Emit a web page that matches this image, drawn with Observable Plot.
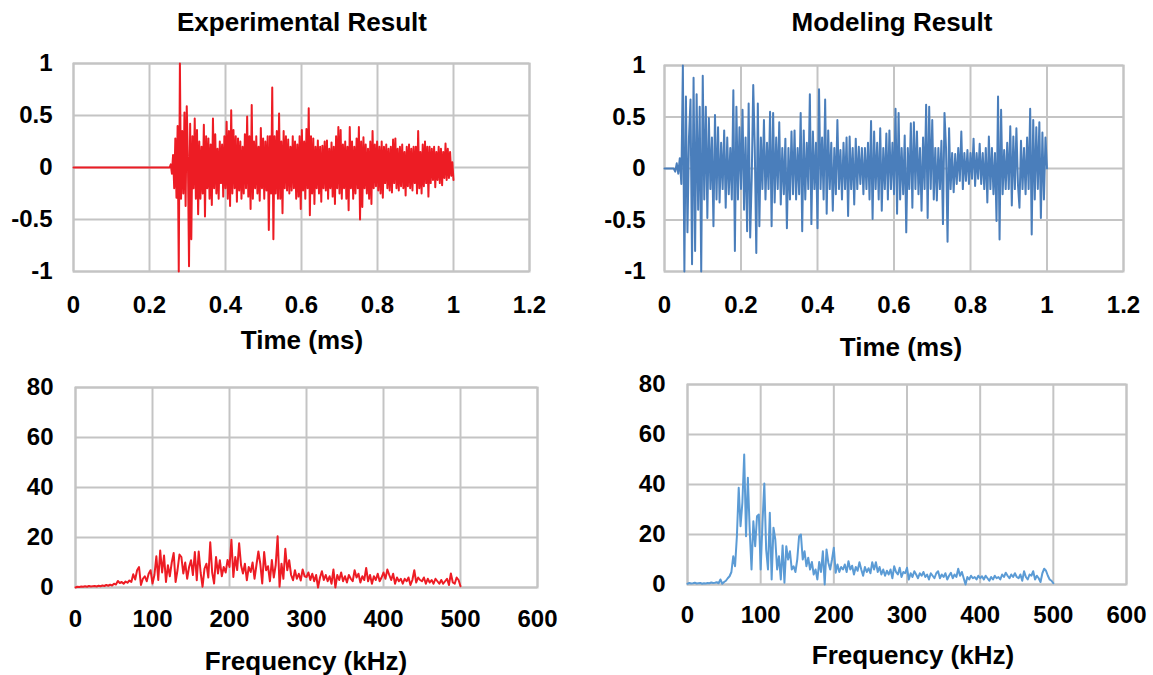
<!DOCTYPE html>
<html><head><meta charset="utf-8">
<script src="https://cdn.jsdelivr.net/npm/d3@7"></script>
<script src="https://cdn.jsdelivr.net/npm/@observablehq/plot@0.6"></script>
<style>
body{margin:0;background:#fff;font-family:"Liberation Sans",Arial,sans-serif;}
#root{position:relative;width:1153px;height:675px;overflow:hidden;background:#fff;}
.t{position:absolute;font-weight:bold;white-space:nowrap;transform:translate(-50%,-50%);color:#000;font-family:"Liberation Sans",Arial,sans-serif;line-height:1;}
.p{position:absolute;}
</style></head><body><div id="root"></div><script>
// Tick labels
const timeTicks = [0, 0.2, 0.4, 0.6, 0.8, 1, 1.2];
const ampTicks = [-1, -0.5, 0, 0.5, 1];
const freqTicks = [0, 100, 200, 300, 400, 500, 600];
const magTicks = [0, 20, 40, 60, 80];

// Experimental time signal (ms): flat until 0.25, then samples every 0.003 ms
const expStart = 0.25, expStep = 0.003;
const expAmp = [
0, 0, 0.03, -0.06, 0.12, -0.2, 0.28, -0.29, 0.4, -1.0,
1.0, -0.3, 0.35, -0.25, 0.53, -0.37, 0.59, 0.1, -0.95, 0.42,
-0.69, 0.3, -0.2, 0.47, -0.3, 0.36, -0.45, 0.25, -0.3, 0.2,
-0.25, 0.41, -0.47, 0.3, -0.2, 0.28, -0.3, 0.22, -0.36, 0.47,
-0.2, 0.32, -0.25, 0.18, -0.3, 0.25, -0.15, 0.22, -0.28, 0.3,
-0.2, 0.44, -0.3, 0.35, -0.37, 0.55, -0.25, 0.36, -0.2, 0.3,
-0.33, 0.28, -0.22, 0.25, -0.3, 0.2, -0.25, 0.32, -0.2, 0.49,
-0.28, 0.3, -0.4, 0.6, -0.3, 0.25, -0.2, 0.3, -0.25, 0.2,
-0.32, 0.38, -0.2, 0.28, -0.3, 0.25, -0.22, 0.3, -0.6, 0.3,
-0.25, 0.77, -0.69, 0.3, -0.25, 0.35, -0.3, 0.52, -0.3, 0.25,
-0.44, 0.35, -0.2, 0.3, -0.22, 0.27, -0.25, 0.2, -0.22, 0.3,
-0.2, 0.25, -0.3, 0.22, -0.28, 0.3, -0.4, 0.36, -0.22, 0.25,
-0.3, 0.37, -0.2, 0.57, -0.46, 0.3, -0.25, 0.28, -0.35, 0.2,
-0.2, 0.26, -0.25, 0.2, -0.33, 0.21, -0.2, 0.25, -0.22, 0.26,
-0.3, 0.18, -0.2, 0.24, -0.28, 0.2, -0.35, 0.3, -0.2, 0.39,
-0.25, 0.36, -0.3, 0.22, -0.2, 0.25, -0.3, 0.2, -0.41, 0.39,
-0.2, 0.25, -0.3, 0.2, -0.25, 0.28, -0.2, 0.39, -0.5, 0.25,
-0.38, 0.29, -0.2, 0.22, -0.25, 0.18, -0.3, 0.25, -0.35, 0.35,
-0.2, 0.22, -0.18, 0.25, -0.22, 0.2, -0.25, 0.25, -0.29, 0.2,
-0.15, 0.22, -0.2, 0.18, -0.22, 0.2, -0.24, 0.27, -0.15, 0.28,
-0.2, 0.18, -0.22, 0.2, -0.18, 0.22, -0.2, 0.15, -0.27, 0.2,
-0.18, 0.22, -0.2, 0.18, -0.22, 0.2, -0.15, 0.2, -0.25, 0.35,
-0.2, 0.15, -0.25, 0.22, -0.18, 0.25, -0.15, 0.2, -0.28, 0.2,
-0.15, 0.18, -0.12, 0.2, -0.19, 0.15, -0.12, 0.2, -0.15, 0.18,
-0.17, 0.15, -0.1, 0.23, -0.12, 0.18, -0.1, 0.15, -0.08, 0.05,
-0.12
];

// Modeling time signal: flat until 0.02, then samples every 0.004 ms
const modStart = 0.02, modStep = 0.004;
const modAmp = [
0, 0, -0.03, 0.05, -0.05, 0.1, -0.15, 1.0, -1.0, 0.7,
-0.62, 0.3, 0.67, -0.93, 0.88, -0.8, 0.72, -0.4, 0.6, -1.0,
0.9, -0.3, 0.6, -0.48, 0.49, -0.2, 0.3, -0.56, 0.52, -0.3,
0.4, -0.33, 0.25, -0.2, 0.37, -0.38, 0.3, -0.25, 0.2, -0.3,
0.76, -0.8, 0.6, -0.3, 0.4, -0.2, 0.57, -0.4, 0.3, -0.61,
0.63, -0.67, -0.1, 0.81, 0.2, -0.82, 0.63, -0.56, 0.3, -0.2,
0.47, -0.3, 0.25, -0.2, 0.55, -0.56, 0.54, -0.33, 0.3, -0.2,
0.45, -0.35, 0.2, -0.25, 0.29, -0.58, 0.2, -0.3, 0.36, -0.25,
0.37, -0.3, 0.2, -0.25, 0.54, -0.61, 0.37, -0.3, 0.25, -0.2,
0.72, -0.54, 0.36, -0.2, 0.25, -0.58, 0.77, -0.2, 0.3, -0.3,
0.67, -0.44, 0.37, -0.2, 0.25, -0.41, 0.2, -0.25, 0.47, -0.2,
0.18, -0.3, 0.25, -0.2, 0.3, -0.46, 0.31, -0.2, 0.2, -0.35,
0.29, -0.2, 0.21, -0.15, 0.2, -0.25, 0.2, -0.2, 0.25, -0.3,
0.46, -0.49, 0.36, -0.2, 0.25, -0.3, 0.39, -0.41, 0.2, -0.2,
0.34, -0.3, 0.37, -0.2, 0.25, -0.25, 0.58, -0.44, 0.54, -0.3,
0.2, -0.25, 0.32, -0.62, 0.2, -0.2, 0.44, -0.38, 0.45, -0.2,
0.36, -0.25, 0.2, -0.41, 0.3, -0.2, 0.62, -0.48, 0.6, -0.2,
0.47, -0.3, 0.2, -0.31, 0.2, -0.2, 0.27, -0.54, 0.54, 0.2,
-0.71, 0.39, -0.2, 0.15, -0.23, 0.14, -0.15, 0.2, -0.12, 0.36,
-0.2, 0.15, -0.12, 0.18, -0.15, 0.15, -0.1, 0.29, -0.17, 0.15,
-0.1, 0.24, -0.15, 0.15, -0.2, 0.2, -0.33, 0.31, -0.2, 0.2,
-0.25, 0.15, -0.51, 0.7, -0.69, 0.57, -0.25, 0.18, -0.2, 0.25,
-0.2, 0.41, -0.36, 0.31, -0.2, 0.39, -0.15, -0.38, 0.27, -0.2,
0.2, -0.25, 0.3, -0.2, 0.58, -0.64, 0.47, -0.3, 0.4, -0.2,
0.45, -0.48, 0.35, -0.3, 0.3, 0.0
];

// Spectra: samples every 2.5 kHz from 0 to 500 kHz
const specStep = 2.5;
const expSpec = [
0, 0.3, 0.2, 0.4, 0.3, 0.5, 0.3, 0.6, 0.4, 0.5,
0.6, 0.4, 0.7, 0.5, 0.8, 0.6, 1.0, 0.7, 1.1, 0.8,
1.5, 1.2, 2.6, 1.8, 2.2, 1.5, 2.4, 1.9, 2.8, 2.2,
5.3, 3.2, 6.9, 8.2, 1.0, 3.5, 4.5, 2.5, 5.5, 6.9,
1.6, 5, 12.5, 3, 14.8, 6, 12.8, 2.2, 8.9, 4.5,
10, 13.8, 2.2, 7, 13.2, 12.2, 5.6, 10, 3.5, 8.2,
10.9, 5, 14.2, 2.9, 14.4, 6, 0.3, 7.5, 9.5, 4,
18.1, 6, 1.6, 12.2, 5.6, 10.9, 4.5, 8.2, 6, 11,
8.2, 19.1, 4.2, 12.2, 7, 17.7, 8.9, 5.6, 9.5, 2.9,
8.2, 6.2, 10, 3.5, 9, 14.4, 9.5, 1.6, 14.2, 6.9,
8.5, 2.5, 11, 4, 9, 20.5, 0.3, 9.5, 3.5, 15.5,
6.9, 10.9, 5, 2.9, 6.9, 3.5, 5.5, 2.8, 7.2, 4.5,
4.2, 6, 3, 5.5, 2.5, 5, 0, 4, 6.5, 3,
5, 2.5, 4.5, 1.5, 7.2, 0, 5, 3, 6, 2.5,
4.5, 2, 5, 3.5, 2.5, 6.9, 4, 5.5, 2, 4.5,
3, 7.8, 2.5, 5, 1.5, 4.5, 3, 5.5, 2.5, 4,
6, 3.5, 7.2, 5, 3, 5.5, 1.5, 4, 2.5, 3.5,
1.5, 3.5, 2.5, 4, 1, 3, 6.9, 2, 4, 3,
2.5, 4, 1.5, 3.5, 2, 3, 1.5, 3.5, 2.5, 1.5,
3, 1.5, 2.5, 3.5, 1, 5.6, 2, 1.5, 4, 3,
0.5
];
const modSpec = [
0.3, 0.6, 0.4, 0.5, 0.7, 0.4, 0.5, 0.6, 0.3, 0.5,
0.4, 0.6, 0.5, 0.8, 0.6, 0.7, 0.9, 0.5, 2, 0.3,
1, 1.5, 2.5, 3.3, 5, 11.3, 7.3, 19.3, 38.7, 23.3,
32.7, 52, 19.3, 42.7, 22, 6, 25.3, 15.3, 27.3, 28,
6, 24.7, 40.4, 14, 6, 28.7, 2, 22.7, 18, 6,
11.3, 2, 15.6, 0.7, 15.3, 10, 13.3, 6, 7.3, 5,
10, 19.3, 20, 10, 13.3, 7.3, 10.7, 6, 9, 4,
6, 2, 9, 5, 13.3, 0, 14, 8.7, 6, 10,
14.7, 4.7, 8, 5, 7, 6, 8, 5, 9.3, 6,
7.5, 4, 7, 5.5, 8.9, 6, 3.5, 7, 5, 6.5,
4.5, 8.9, 6, 8.9, 5, 7, 4, 6, 3.5, 5.5,
4, 6, 2.5, 7.3, 5, 4, 6.7, 3, 5, 4.5,
6.7, 2, 4.5, 3, 5.3, 4, 2.5, 4.5, 3.5, 5,
3, 4, 2, 4.5, 3.5, 2.5, 4.5, 5.3, 2.5, 4,
3, 4.5, 2, 3.5, 4.7, 2.5, 4, 3, 6.3, 3.5,
5, 2.5, 0, 3, 2, 3.5, 2.5, 3, 2, 3.5,
2.5, 3.3, 2, 3.5, 2.5, 1.5, 3, 2, 3.5, 2.5,
3, 2, 4, 3, 4.7, 3.5, 2.5, 4, 3, 4.5,
3, 2.5, 4, 1.5, 5.3, 3, 2, 4, 3.5, 5.3,
2, 3.5, 2.5, 1, 4.5, 6.3, 5.5, 3.5, 2, 1.5,
0.5
];

const timeRows = (start, step, vals) =>
  [{x: 0, y: 0}].concat(vals.map((v, i) => ({x: start + i * step, y: v})));
const specRows = (step, vals) => vals.map((v, i) => ({x: i * step, y: v}));

const root = document.getElementById("root");
const fmt = d => (d < 0 ? "-" + Math.abs(d) : String(d));

function panel(o) {
  const grid = {stroke: "#c4c4c4", strokeWidth: 2, strokeOpacity: 1};
  const svg = Plot.plot({
    width: o.width, height: o.height,
    marginLeft: o.ml, marginRight: o.mr, marginTop: o.mt, marginBottom: o.mb,
    style: {fontSize: "24px", fontWeight: "bold", fontFamily: "'Liberation Sans', Arial, sans-serif", color: "#000", background: "transparent", overflow: "visible"},
    x: {domain: o.xDomain, label: null},
    y: {domain: o.yDomain, label: null},
    marks: [
      Plot.gridX(o.xTicks, grid),
      Plot.gridY(o.yTicks, grid),
      Plot.frame({stroke: "#c4c4c4", strokeWidth: 2}),
      Plot.line(o.data, {x: "x", y: "y", stroke: o.color, strokeWidth: 2}),
      Plot.axisX(o.xTicks, {tickSize: 0, tickPadding: o.xpad, tickFormat: fmt, label: null, fill: "#000"}),
      Plot.axisY(o.yTicks, {tickSize: 0, tickPadding: o.ypad, tickFormat: fmt, label: null, fill: "#000"})
    ]
  });
  const div = document.createElement("div");
  div.className = "p";
  div.style.left = o.left + "px";
  div.style.top = o.top + "px";
  div.appendChild(svg);
  root.appendChild(div);
}

function label(text, x, y, size) {
  const d = document.createElement("div");
  d.className = "t";
  d.textContent = text;
  d.style.left = x + "px";
  d.style.top = y + "px";
  d.style.fontSize = size + "px";
  root.appendChild(d);
}

// Top-left: experimental time signal
panel({left: 0, top: 50, width: 560, height: 270, ml: 73, mr: 31, mt: 13, mb: 49,
  xDomain: [0, 1.2], yDomain: [-1, 1], xTicks: timeTicks, yTicks: ampTicks,
  data: timeRows(expStart, expStep, expAmp), color: "#ed1c24", xpad: 24, ypad: 21});
// Top-right: modeling time signal
panel({left: 590, top: 50, width: 563, height: 270, ml: 74, mr: 30, mt: 15, mb: 49,
  xDomain: [0, 1.2], yDomain: [-1, 1], xTicks: timeTicks, yTicks: ampTicks,
  data: timeRows(modStart, modStep, modAmp), color: "#4a7ebb", xpad: 24, ypad: 19});
// Bottom-left: experimental spectrum
panel({left: 0, top: 370, width: 560, height: 270, ml: 75, mr: 23, mt: 17, mb: 53,
  xDomain: [0, 600], yDomain: [0, 80], xTicks: freqTicks, yTicks: magTicks,
  data: specRows(specStep, expSpec), color: "#ed1c24", xpad: 22, ypad: 22});
// Bottom-right: modeling spectrum
panel({left: 600, top: 370, width: 553, height: 270, ml: 87, mr: 27, mt: 14, mb: 56,
  xDomain: [0, 600], yDomain: [0, 80], xTicks: freqTicks, yTicks: magTicks,
  data: specRows(specStep, modSpec), color: "#5b9bd5", xpad: 21, ypad: 22});

label("Experimental Result", 302, 22, 26);
label("Modeling Result", 892, 22, 26);
label("Time (ms)", 302, 340, 26);
label("Time (ms)", 901, 347, 26);
label("Frequency (kHz)", 306, 661, 26);
label("Frequency (kHz)", 913, 655, 26);
</script></body></html>
